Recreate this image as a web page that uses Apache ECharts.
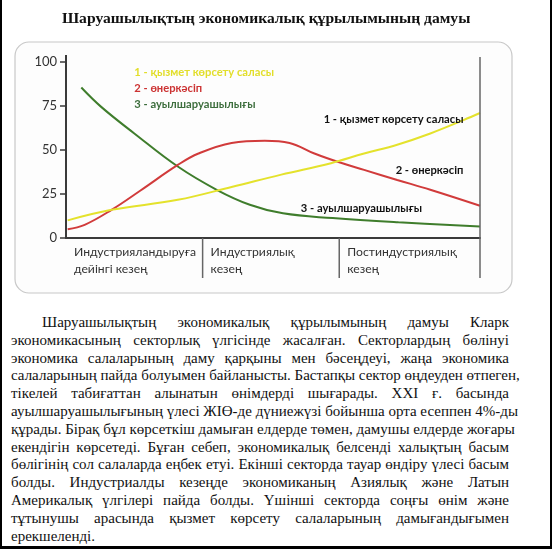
<!DOCTYPE html>
<html><head><meta charset="utf-8">
<script src="https://cdn.jsdelivr.net/npm/echarts@6/dist/echarts.min.js"></script>
<style>
html,body{margin:0;padding:0;background:#fff;}
body{width:552px;height:549px;position:relative;overflow:hidden;box-sizing:border-box;border-left:2px solid #000;border-right:2px solid #000;border-bottom:3px solid #000;}
#chart{position:absolute;left:-2px;top:0;width:552px;height:300px;}
#para{position:absolute;left:9px;top:314px;width:498px;font-family:"Liberation Serif","DejaVu Serif",serif;font-size:15px;line-height:17.8px;color:#111;}
#para div{text-align:justify;text-align-last:justify;white-space:nowrap;}
#para div.last{text-align-last:left;}
</style></head>
<body>
<div id="chart"></div>
<div id="para"></div>
<script>
const titleText = "Шаруашылықтың экономикалық құрылымының дамуы";
const seriesNames = ["1 - қызмет көрсету саласы", "2 - өнеркәсіп", "3 - ауылшаруашылығы"];
const periodLabels = ["Индустрияландыруға\nдейінгі кезең", "Индустриялық\nкезең", "Постиндустриялық\nкезең"];
const periodBounds = [0, 33, 66, 100];
const yTicks = [0, 25, 50, 75, 100];
const serviceData = [[0.4,10],[11,16],[27,21.7],[40,29],[52,36],[64,42.5],[72,48],[80,53],[88,59.4],[96,67],[100,71]];
const industryData = [[0.4,5],[4.5,7.5],[11,16],[18,27],[27,41.5],[32,48],[40,54],[48,55.3],[54,54],[60,48],[66,43],[72,38.7],[80,33],[88,27.4],[100,18.3]];
const agriData = [[3.7,85.5],[8.5,74.5],[16.5,59.4],[27,40.6],[36.4,27.4],[44.4,18.9],[52.4,14],[64.4,11.3],[80.3,8.9],[100,6.6]];
const colors = ["#e4e22c", "#d13b3b", "#3f7d2c"];
const labelColors = ["#e2de2a", "#cc3333", "#3d6e3d"];
const paraLines = [
"Шаруашылықтың экономикалық құрылымының дамуы Кларк",
"экономикасының секторлық үлгісінде жасалған. Секторлардың бөлінуі",
"экономика салаларының даму қарқыны мен бәсеңдеуі, жаңа экономика",
"салаларының пайда болуымен байланысты. Бастапқы сектор өңдеуден өтпеген,",
"тікелей табиғаттан алынатын өнімдерді шығарады. XXI ғ. басында",
"ауылшаруашылығының үлесі ЖІӨ-де дүниежүзі бойынша орта есеппен 4%-ды",
"құрады. Бірақ бұл көрсеткіш дамыған елдерде төмен, дамушы елдерде жоғары",
"екендігін көрсетеді. Бұған себеп, экономикалық белсенді халықтың басым",
"бөлігінің сол салаларда еңбек етуі. Екінші секторда тауар өндіру үлесі басым",
"болды. Индустриалды кезеңде экономиканың Азиялық және Латын",
"Америкалық үлгілері пайда болды. Үшінші секторда соңғы өнім және",
"тұтынушы арасында қызмет көрсету салаларының дамығандығымен",
"ерекшеленді."
];

const para = document.getElementById('para');
paraLines.forEach((t, i) => {
  const d = document.createElement('div');
  d.textContent = t;
  if (i === 0) d.style.textIndent = '31px';
  if (i === paraLines.length - 1) d.className = 'last';
  para.appendChild(d);
});

const chart = echarts.init(document.getElementById('chart'), null, {renderer: 'canvas'});
const sans = 'Lato, "Noto Sans", sans-serif';
const seriesData = [serviceData, industryData, agriData];
chart.setOption({
  animation: false,
  backgroundColor: '#fff',
  title: {
    text: titleText, left: 57, top: 6,
    textStyle: {fontFamily: '"Liberation Serif", serif', fontSize: 15.6, fontWeight: 'bold', color: '#111'}
  },
  grid: {left: 66, right: 72, top: 62, bottom: 62},
  xAxis: {
    type: 'value', min: 0, max: 100,
    axisLine: {show: true, lineStyle: {color: '#3a3a3a', width: 2}},
    axisTick: {show: false}, axisLabel: {show: false}, splitLine: {show: false}
  },
  yAxis: {
    type: 'value', min: 0, max: 100, interval: 25,
    axisLine: {show: true, lineStyle: {color: '#3a3a3a', width: 2}},
    axisTick: {show: true, length: 6, lineStyle: {color: '#3a3a3a', width: 1.5}},
    axisLabel: {color: '#333', fontSize: 13, fontFamily: sans, margin: 9},
    splitLine: {show: false}
  },
  series: seriesData.map((d, i) => ({
    name: seriesNames[i], type: 'line', smooth: 0.4, data: d, showSymbol: false,
    lineStyle: {color: colors[i], width: 2}, z: 3 - i
  }))
});

function px(x, y) { return chart.convertToPixel({gridIndex: 0}, [x, y]); }
const g = [];
g.push({type: 'rect', shape: {x: 15, y: 42, width: 497, height: 251, r: 14},
  style: {fill: '#fdfdfd', stroke: '#c8c8c8', lineWidth: 1.2}, z: -10, silent: true});
const p0 = px(0, 100);
g.push({type: 'line', shape: {x1: p0[0], y1: p0[1], x2: p0[0], y2: p0[1] - 7}, style: {stroke: '#3a3a3a', lineWidth: 2}, z: 5});
periodBounds.forEach((b, i) => {
  if (i === 0) return;
  const base = px(b, 0);
  const top = (i === periodBounds.length - 1) ? px(b, 100)[1] - 5 : base[1];
  g.push({type: 'line', shape: {x1: base[0], y1: top, x2: base[0], y2: base[1] + 40}, style: {stroke: '#666', lineWidth: 1.5}, z: 5});
});
periodLabels.forEach((t, i) => {
  const p = px(periodBounds[i], 0);
  g.push({type: 'text', x: p[0] + 8, y: p[1] + 6, style: {text: t, fill: '#333', fontSize: 12.2, fontFamily: sans, lineHeight: 16.5}, z: 5});
});
const lp = px(16.5, 94);
seriesNames.forEach((n, i) => {
  g.push({type: 'text', x: lp[0], y: lp[1] + i * 15.7, style: {text: n, fill: labelColors[i], fontSize: 11.2, fontWeight: 'bold', fontFamily: sans, verticalAlign: 'middle'}, z: 5});
});
const rl = [[96, 67.5], [96, 38.6], [86, 17]];
rl.forEach((r, i) => {
  const p = px(r[0], r[1]);
  g.push({type: 'text', x: p[0], y: p[1], style: {text: seriesNames[i], fill: '#111', fontSize: 11.2, fontWeight: 'bold', fontFamily: sans, align: 'right', verticalAlign: 'middle'}, z: 5});
});
chart.setOption({graphic: g});
</script>
</body></html>
